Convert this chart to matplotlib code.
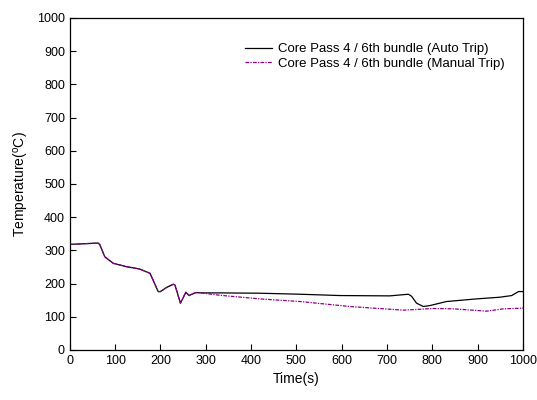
import matplotlib
matplotlib.use('Agg')
import matplotlib.pyplot as plt

plt.rcParams['font.family'] = ['Liberation Sans', 'DejaVu Sans']

# shared part of the transient (both curves overlap up to ~290 s)
t_common = [0, 30, 62, 66, 77, 96, 125, 154, 177, 182, 195, 200, 213, 228, 232, 244, 256, 263, 278, 290]
T_common = [318, 320, 322, 318, 281, 261, 251, 244, 231, 216, 176, 176, 188, 198, 196, 141, 174, 164, 173, 172]

t_auto = [330, 419, 508, 596, 706, 747, 754, 765, 780, 795, 831, 898, 949, 975, 990, 1000]
T_auto = [172, 171, 168, 164, 163, 168, 162, 141, 131, 134, 146, 154, 159, 164, 176, 176]

t_manual = [330, 419, 508, 596, 618, 736, 802, 846, 920, 957, 1000]
T_manual = [165, 154, 146, 134, 131, 120, 125, 124, 117, 124, 126]

label_auto = 'Core Pass 4 / 6th bundle (Auto Trip)'
label_manual = 'Core Pass 4 / 6th bundle (Manual Trip)'

fig = plt.figure(figsize=(5.37, 4.0), dpi=100)
ax = fig.add_axes([0.130, 0.125, 0.844, 0.830])

ax.plot(t_common + t_auto, T_common + T_auto, color='black', lw=0.9, label=label_auto)
ax.plot(t_common + t_manual, T_common + T_manual, color='#8B008B', lw=0.9,
        linestyle=(0, (3, 1, 1, 1)), label=label_manual)

ax.set_xlim(0, 1000)
ax.set_ylim(0, 1000)
ax.set_xticks(range(0, 1001, 100))
ax.set_yticks(range(0, 1001, 100))
ax.tick_params(direction='in', length=4, width=0.8, labelsize=9, top=False, right=False)
for s in ax.spines.values():
    s.set_linewidth(0.9)

ax.set_xlabel('Time(s)', fontsize=10)
ax.set_ylabel(r'Temperature($^\mathregular{o}$C)', fontsize=10)

ax.legend(loc='upper right', bbox_to_anchor=(0.972, 0.94), borderaxespad=0, frameon=False,
          fontsize=9.5, handlelength=2.0, handletextpad=0.5, labelspacing=0.15)

fig.savefig('out.png', dpi=100)
